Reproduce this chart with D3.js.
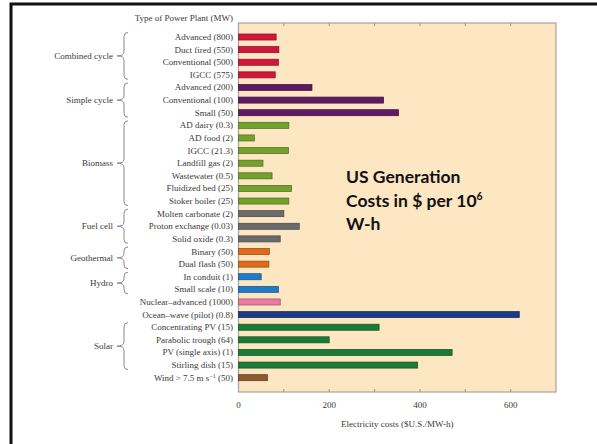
<!DOCTYPE html>
<meta charset="utf-8">
<script src="https://d3js.org/d3.v7.min.js"></script>
<style>
  body { margin: 0; background: #fff; }
  text { font-family: "Liberation Serif", serif; fill: #3a3a3a; }
</style>
<div id="chart"></div>
<script>

// plant types, top to bottom
const plants = [
  "Advanced (800)", "Duct fired (550)", "Conventional (500)", "IGCC (575)",
  "Advanced (200)", "Conventional (100)", "Small   (50)",
  "AD dairy (0.3)", "AD food (2)", "IGCC (21.3)", "Landfill gas (2)",
  "Wastewater (0.5)", "Fluidized bed (25)", "Stoker boiler (25)",
  "Molten carbonate (2)", "Proton exchange (0.03)", "Solid oxide (0.3)",
  "Binary (50)", "Dual flash (50)",
  "In conduit (1)", "Small scale (10)",
  "Nuclear\u2013advanced (1000)", "Ocean\u2013wave (pilot) (0.8)",
  "Concentrating PV (15)", "Parabolic trough (64)", "PV (single axis) (1)", "Stirling dish (15)",
  "Wind > 7.5 m s"
];
// electricity cost, $U.S./MW-h
const costs = [
  83, 89, 88, 81,
  162, 320, 353,
  111, 35, 110, 54, 74, 117, 111,
  100, 134, 92,
  68, 67,
  50, 88,
  92, 619,
  310, 200, 471, 395,
  64
];
// which family each bar belongs to (sets the colour)
const family = [
  "combined", "combined", "combined", "combined",
  "simple", "simple", "simple",
  "biomass", "biomass", "biomass", "biomass", "biomass", "biomass", "biomass",
  "fuel", "fuel", "fuel",
  "geo", "geo",
  "hydro", "hydro",
  "nuclear", "ocean",
  "solar", "solar", "solar", "solar",
  "wind"
];
// bracketed groups: label, first row, last row
const groups = [
  ["Combined cycle", 0, 3],
  ["Simple cycle", 4, 6],
  ["Biomass", 7, 13],
  ["Fuel cell", 14, 16],
  ["Geothermal", 17, 18],
  ["Hydro", 19, 20],
  ["Solar", 23, 26]
];
const xTicks = [0, 200, 400, 600];

const fills = {
  combined: "#d0173c", simple: "#5f1a63", biomass: "#72a22c", fuel: "#6a6a6c",
  geo: "#e06a1c", hydro: "#1f7bc9", nuclear: "#e97ba2", ocean: "#1b3b85",
  solar: "#1a7b34", wind: "#8c5a30"
};

const W = 597, H = 444;
const plot = {left: 238.5, right: 556, top: 23, bottom: 392};

const svg = d3.select("#chart").append("svg")
  .attr("width", W).attr("height", H);

// slide frame
svg.append("rect")
  .attr("x", 11).attr("y", 4)
  .attr("width", W + 20).attr("height", H + 20)
  .attr("fill", "none").attr("stroke", "#111").attr("stroke-width", 3);

const x = d3.scaleLinear().domain([0, 700]).range([plot.left, plot.right]);
const y = d3.scaleBand()
  .domain(d3.range(plants.length))
  .range([30.7, 384.0])
  .paddingInner(0.52).paddingOuter(0.26);

// plot background
svg.append("rect")
  .attr("x", plot.left).attr("y", plot.top)
  .attr("width", plot.right - plot.left).attr("height", plot.bottom - plot.top)
  .attr("fill", "#fde6c2").attr("stroke", "#aaa298").attr("stroke-width", 1.2);

// inward ticks at top and bottom
const minor = d3.range(100, 700, 100);
svg.append("g").selectAll("line").data(minor).join("line")
  .attr("x1", d => x(d)).attr("x2", d => x(d))
  .attr("y1", plot.top).attr("y2", plot.top + 3)
  .attr("stroke", "#9a9288");
svg.append("g").selectAll("line").data(minor).join("line")
  .attr("x1", d => x(d)).attr("x2", d => x(d))
  .attr("y1", plot.bottom).attr("y2", plot.bottom - 3)
  .attr("stroke", "#9a9288");

svg.append("g").selectAll("text").data(xTicks).join("text")
  .attr("x", d => x(d)).attr("y", 408)
  .attr("text-anchor", "middle").attr("font-size", 9)
  .text(d => d);

svg.append("text")
  .attr("x", x(350)).attr("y", 427)
  .attr("text-anchor", "middle").attr("font-size", 9)
  .text("Electricity costs ($U.S./MW-h)");

// bars
svg.append("g").selectAll("rect").data(costs).join("rect")
  .attr("x", x(0))
  .attr("y", (d, i) => y(i))
  .attr("width", d => x(d) - x(0))
  .attr("height", y.bandwidth())
  .attr("fill", (d, i) => fills[family[i]])
  .attr("stroke", (d, i) => d3.color(fills[family[i]]).darker(1.2))
  .attr("stroke-width", 0.7);

// row labels
const labels = svg.append("g").selectAll("text").data(plants).join("text")
  .attr("x", 233)
  .attr("y", (d, i) => y(i) + y.bandwidth() / 2 + 3)
  .attr("text-anchor", "end").attr("font-size", 9)
  .text(d => d);
// wind label needs the superscript and the rating
labels.filter((d, i) => i === plants.length - 1).each(function() {
  const t = d3.select(this);
  t.append("tspan").attr("dy", -3).attr("font-size", 6).text("\u22121");
  t.append("tspan").attr("dy", 3).text(" (50)");
});

svg.append("text")
  .attr("x", 233).attr("y", 21)
  .attr("text-anchor", "end").attr("font-size", 9)
  .text("Type of Power Plant  (MW)");

// curly braces for the groups
function brace(y0, y1) {
  const xr = 124, xt = 117, r = 4;
  const ym = (y0 + y1) / 2;
  return `M${xr + r},${y0} Q${xr},${y0} ${xr},${y0 + r}` +
    ` L${xr},${ym - r} Q${xr},${ym} ${xt},${ym}` +
    ` Q${xr},${ym} ${xr},${ym + r}` +
    ` L${xr},${y1 - r} Q${xr},${y1} ${xr + r},${y1}`;
}
const gb = svg.append("g");
groups.forEach(([name, a, b]) => {
  const y0 = y(a) - 1.5, y1 = y(b) + y.bandwidth() + 1.5;
  gb.append("path").attr("d", brace(y0, y1))
    .attr("fill", "none").attr("stroke", "#8a8a8a").attr("stroke-width", 1);
  gb.append("text")
    .attr("x", 113).attr("y", (y0 + y1) / 2 + 3)
    .attr("text-anchor", "end").attr("font-size", 9)
    .text(name);
});

// note on the plot
const note = svg.append("text")
  .attr("x", 346).attr("y", 183)
  .style("font-family", "Lato, 'Open Sans', sans-serif")
  .style("font-weight", "bold").style("font-size", "17.5px").style("fill", "#111");
note.append("tspan").attr("x", 346).text("US Generation");
note.append("tspan").attr("x", 346).attr("dy", 23.5).text("Costs in $ per 10");
note.append("tspan").attr("dy", -7).style("font-size", "10.5px").text("6");
note.append("tspan").attr("x", 346).attr("dy", 30.5).text("W-h");

</script>
